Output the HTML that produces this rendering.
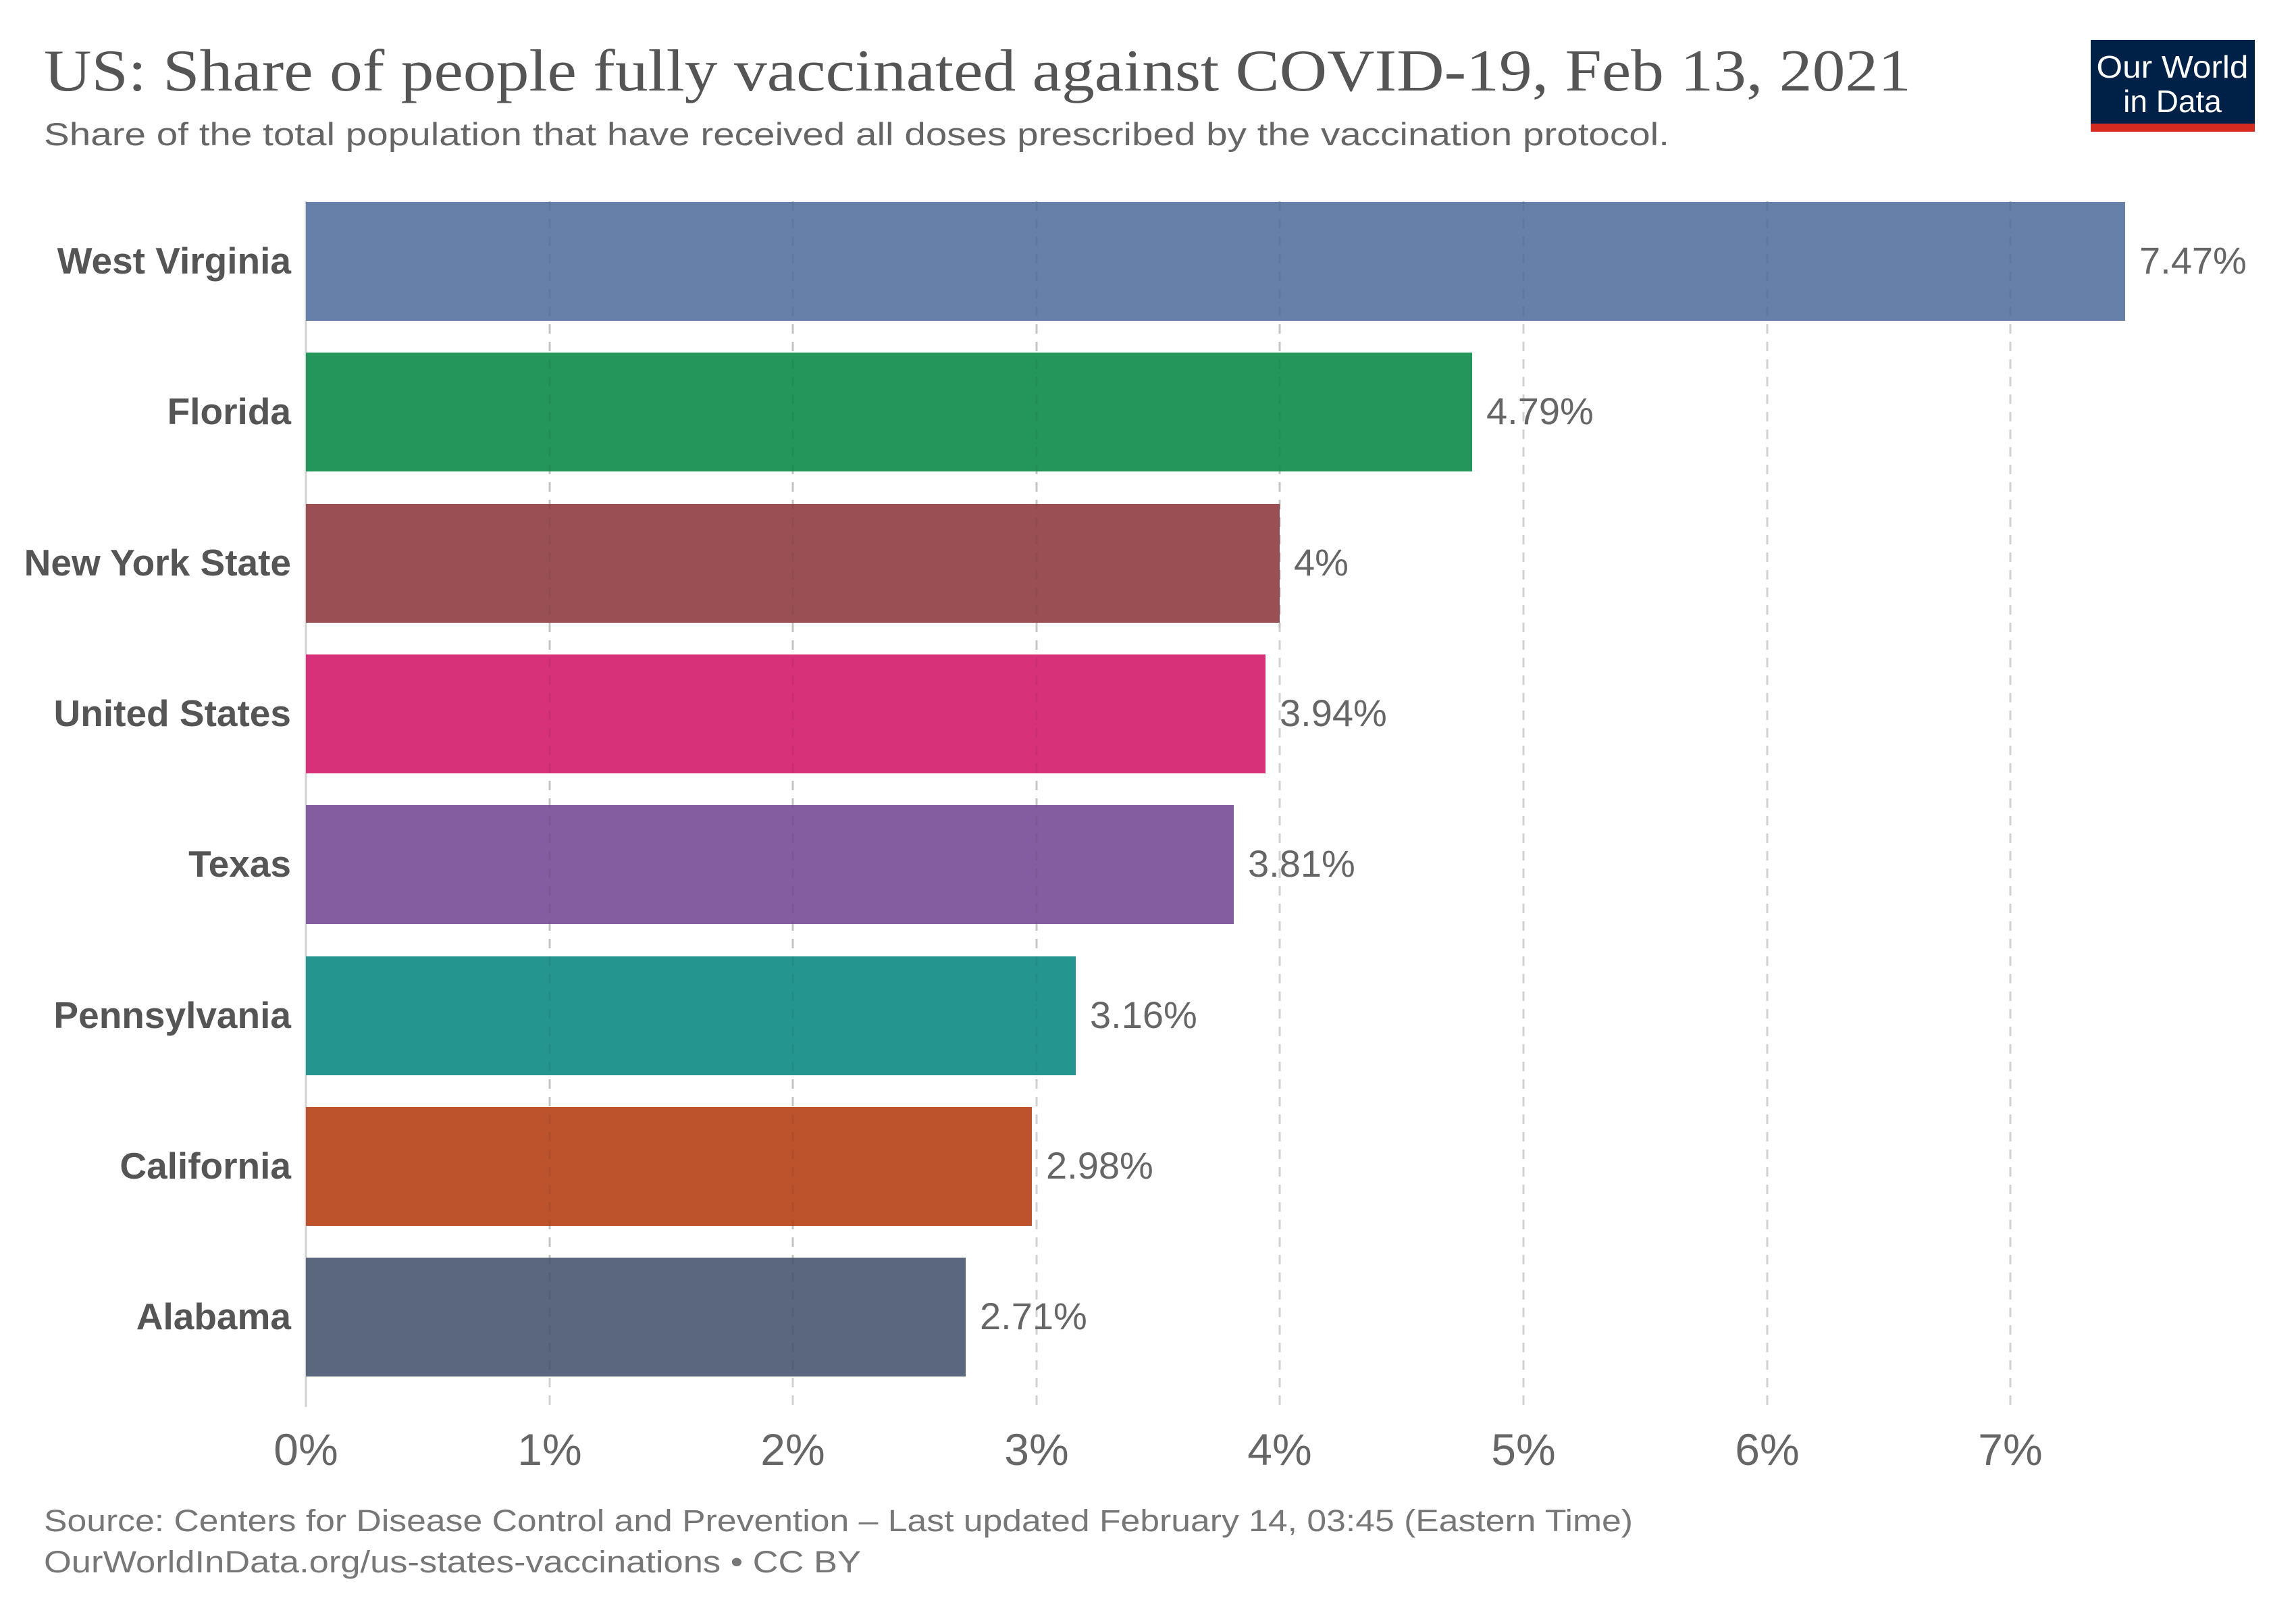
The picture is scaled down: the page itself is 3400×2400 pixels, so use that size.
<!DOCTYPE html>
<html><head><meta charset="utf-8"><style>html,body{margin:0;padding:0;background:#fff}svg{display:block}</style></head>
<body>
<svg width="3400" height="2400" viewBox="0 0 3400 2400" xmlns="http://www.w3.org/2000/svg">
<rect width="3400" height="2400" fill="#fff"/>
<text x="65" y="134" font-family="Liberation Serif, serif" font-size="88" fill="#555" textLength="2765" lengthAdjust="spacingAndGlyphs">US: Share of people fully vaccinated against COVID-19, Feb 13, 2021</text>
<text x="65" y="215" font-family="Liberation Sans, sans-serif" font-size="47" fill="#666" textLength="2407" lengthAdjust="spacingAndGlyphs">Share of the total population that have received all doses prescribed by the vaccination protocol.</text>
<rect x="3096" y="59" width="243" height="136" fill="#002147"/>
<rect x="3096" y="183" width="243" height="12" fill="#d42b21"/>
<text x="3217" y="115" text-anchor="middle" font-family="Liberation Sans, sans-serif" font-size="46" fill="#fff" textLength="225" lengthAdjust="spacingAndGlyphs">Our World</text>
<text x="3217" y="166" text-anchor="middle" font-family="Liberation Sans, sans-serif" font-size="46" fill="#fff">in Data</text>
<g stroke="#000" stroke-opacity="0.18" stroke-width="3">
<line x1="453" y1="298" x2="453" y2="2083"/>
<g stroke-dasharray="14,12">
<line x1="814" y1="298" x2="814" y2="2083"/>
<line x1="1174" y1="298" x2="1174" y2="2083"/>
<line x1="1535" y1="298" x2="1535" y2="2083"/>
<line x1="1895" y1="298" x2="1895" y2="2083"/>
<line x1="2256" y1="298" x2="2256" y2="2083"/>
<line x1="2617" y1="298" x2="2617" y2="2083"/>
<line x1="2977" y1="298" x2="2977" y2="2083"/>
</g></g>
<g>
<rect x="453" y="299" width="2694" height="176" fill="#6780aa"/>
<rect x="453" y="522" width="1727" height="176" fill="#24965b"/>
<rect x="453" y="746" width="1442" height="176" fill="#9a4f55"/>
<rect x="453" y="969" width="1421" height="176" fill="#d7317a"/>
<rect x="453" y="1192" width="1374" height="176" fill="#845da0"/>
<rect x="453" y="1416" width="1140" height="176" fill="#24968f"/>
<rect x="453" y="1639" width="1075" height="176" fill="#bc532c"/>
<rect x="453" y="1862" width="977" height="176" fill="#5a677c"/>
</g>
<g stroke="#000" stroke-opacity="0.06" stroke-width="3" stroke-dasharray="14,12">
<line x1="814" y1="298" x2="814" y2="2040"/>
<line x1="1174" y1="298" x2="1174" y2="2040"/>
<line x1="1535" y1="298" x2="1535" y2="1600"/>
<line x1="1895" y1="298" x2="1895" y2="930"/>
<line x1="2256" y1="298" x2="2256" y2="480"/>
<line x1="2617" y1="298" x2="2617" y2="480"/>
<line x1="2977" y1="298" x2="2977" y2="480"/>
</g>
<g font-family="Liberation Sans, sans-serif" font-size="55" font-weight="bold" fill="#555" text-anchor="end">
<text x="431" y="405">West Virginia</text>
<text x="431" y="628">Florida</text>
<text x="431" y="852">New York State</text>
<text x="431" y="1075">United States</text>
<text x="431" y="1298">Texas</text>
<text x="431" y="1522">Pennsylvania</text>
<text x="431" y="1745">California</text>
<text x="431" y="1968">Alabama</text>
</g>
<g font-family="Liberation Sans, sans-serif" font-size="56" fill="#666">
<text x="3168" y="405">7.47%</text>
<text x="2201" y="628">4.79%</text>
<text x="1916" y="852">4%</text>
<text x="1895" y="1075">3.94%</text>
<text x="1848" y="1298">3.81%</text>
<text x="1614" y="1522">3.16%</text>
<text x="1549" y="1745">2.98%</text>
<text x="1451" y="1968">2.71%</text>
</g>
<g font-family="Liberation Sans, sans-serif" font-size="66" fill="#666" text-anchor="middle">
<text x="453" y="2169">0%</text>
<text x="814" y="2169">1%</text>
<text x="1174" y="2169">2%</text>
<text x="1535" y="2169">3%</text>
<text x="1895" y="2169">4%</text>
<text x="2256" y="2169">5%</text>
<text x="2617" y="2169">6%</text>
<text x="2977" y="2169">7%</text>
</g>
<g font-family="Liberation Sans, sans-serif" font-size="45" fill="#777">
<text x="65" y="2267" textLength="2353" lengthAdjust="spacingAndGlyphs">Source: Centers for Disease Control and Prevention – Last updated February 14, 03:45 (Eastern Time)</text>
<text x="65" y="2328" textLength="1210" lengthAdjust="spacingAndGlyphs">OurWorldInData.org/us-states-vaccinations • CC BY</text>
</g>
</svg>
</body></html>
